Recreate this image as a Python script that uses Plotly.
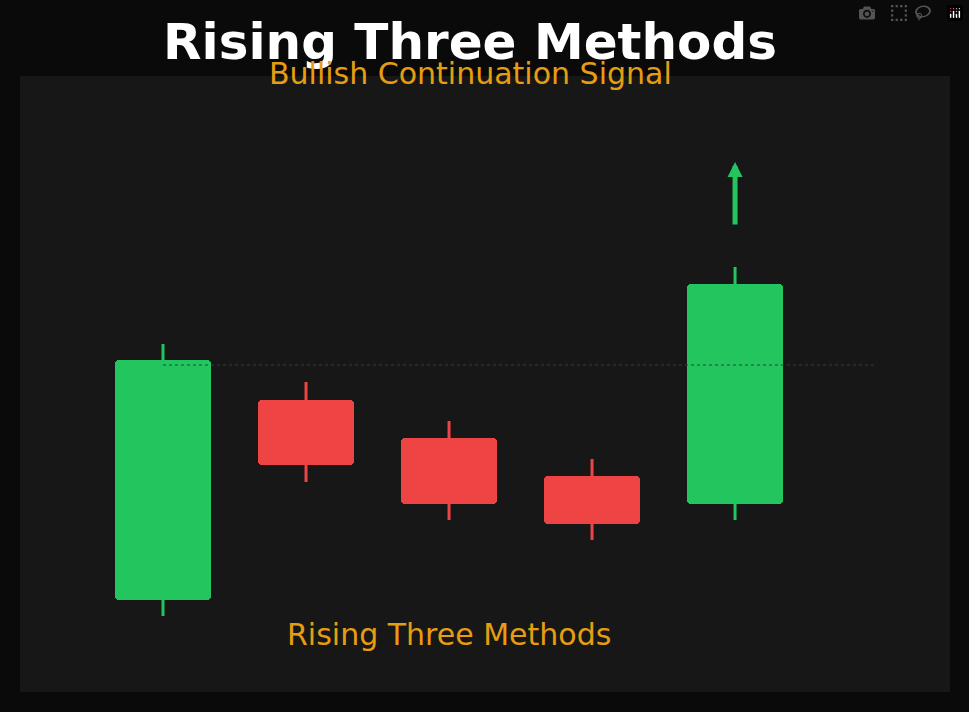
import plotly.graph_objects as go

idx = [0, 1, 2, 3, 4]
opens = [10.0, 30.0, 26.2, 22.4, 19.6]
closes = [34.0, 23.5, 19.6, 17.6, 41.6]
highs = [35.6, 31.8, 27.9, 24.1, 43.3]
lows = [8.4, 21.8, 18.0, 16.0, 18.0]
resistance = 33.5
arrow_from, arrow_to = 47.4, 53.8
label_y = 6.6

GREEN = "#22c55e"
RED = "#ef4444"
ORANGE = "#e69d12"

fig = go.Figure()
cols = [GREEN if c > o else RED for o, c in zip(opens, closes)]

for i, h, l, c in zip(idx, highs, lows, cols):
    fig.add_trace(go.Scatter(x=[i, i], y=[l, h], mode="lines",
                             line=dict(color=c, width=3), hoverinfo="skip"))
fig.add_trace(go.Bar(x=idx, y=[abs(c - o) for o, c in zip(opens, closes)],
                     base=[min(o, c) for o, c in zip(opens, closes)],
                     width=0.67, marker=dict(color=cols, cornerradius=4, line=dict(width=0))))

fig.add_trace(go.Scatter(x=[0, 4.97], y=[resistance, resistance], mode="lines",
                         line=dict(color="#3a3a3a", width=1, dash="dot"), hoverinfo="skip"))

fig.add_annotation(x=4, y=arrow_to, ax=4, ay=arrow_from, xref="x", yref="y",
                   axref="x", ayref="y", showarrow=True, arrowhead=2, arrowsize=0.6,
                   arrowwidth=5, arrowcolor=GREEN, text="")
fig.add_annotation(x=2, y=label_y, xref="x", yref="y", text="Rising Three Methods",
                   showarrow=False, font=dict(size=30, color=ORANGE, family="DejaVu Sans"))
fig.add_annotation(x=470/969, y=1 - 42/712, xref="paper", yref="paper", yanchor="middle",
                   text="<b>Rising Three Methods</b>", showarrow=False,
                   font=dict(size=50, color="white", family="DejaVu Sans"))
fig.add_annotation(x=470/969, y=1 - 74/712, xref="paper", yref="paper", yanchor="middle",
                   text="Bullish Continuation Signal", showarrow=False,
                   font=dict(size=30, color=ORANGE, family="DejaVu Sans"))

fig.update_layout(
    width=969, height=712, showlegend=False,
    paper_bgcolor="#0a0a0a", plot_bgcolor="#171717",
    margin=dict(l=20, r=19, t=76, b=20),
    xaxis=dict(range=[-1, 5.503], visible=False, fixedrange=True),
    yaxis=dict(range=[0.8, 62.4], visible=False, fixedrange=True),
    bargap=0,
)
for a in fig.layout.annotations:
    if a.xref == "paper":
        px_x = a.x * 969
        px_y = (1 - a.y) * 712
        a.x = (px_x - 20) / 930
        a.y = (692 - px_y) / 616
fig.write_html("out.html",
               post_script="document.body.style.margin='0';document.body.style.background='#0a0a0a';")
